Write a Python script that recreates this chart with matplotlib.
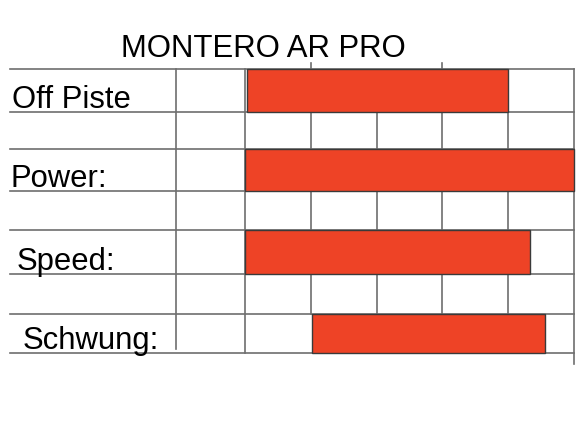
import matplotlib.pyplot as plt

# ratings, in grid columns
labels = ['Off Piste', 'Power:', 'Speed:', 'Schwung:']
bar_start = [1.03, 1.0, 1.0, 2.02]
bar_end = [5.0, 6.0, 5.33, 5.56]
title = 'MONTERO AR PRO'

# layout (pixels from top) of the table rows
row_top = [70, 150, 231, 315]
row_bottom = [113, 192, 275, 354]
label_x = [12, 10, 17, 23]

col_px = (574 - 245) / 5.0
x0_px = 245 - col_px  # pixel of x = 0


def px(x):
    return (x - x0_px) / col_px


fig = plt.figure(figsize=(5.82, 4.35), dpi=100)
ax = fig.add_axes([0, 0, 1, 1])
ax.set_xlim(px(0), px(582))
ax.set_ylim(435, 0)
ax.axis('off')

grid = dict(color='#6e6e6e', linewidth=1.2, zorder=1)

# horizontal lines
edges = sorted(set(row_top + row_bottom))
for y in edges:
    ax.plot([px(10), 6.0], [y, y], **grid)

# full height vertical lines
ax.plot([px(176), px(176)], [70, 350], **grid)
ax.plot([1, 1], [70, 354], **grid)
ax.plot([6, 6], [70, 365], **grid)

# inner vertical lines only in the spacer rows
for i in range(len(row_bottom) - 1):
    for c in range(2, 6):
        ax.plot([c, c], [row_bottom[i], row_top[i + 1]], **grid)

# little ticks above the top line
for c in [2, 4]:
    ax.plot([c, c], [64, 70], **grid)

# bars
for i in range(len(labels)):
    ax.barh((row_top[i] + row_bottom[i]) / 2, bar_end[i] - bar_start[i],
            left=bar_start[i], height=row_bottom[i] - row_top[i],
            color='#ee4326', edgecolor='#3a3a3a', linewidth=1.0, zorder=3)
    ax.text(px(label_x[i]), row_bottom[i] - 5, labels[i],
            fontsize=22.3, family='Liberation Sans', ha='left', va='baseline')

ax.text(px(263.5), 57, title, fontsize=22.4,
        family='Liberation Sans', ha='center', va='baseline')

plt.savefig('out.png', dpi=100)
